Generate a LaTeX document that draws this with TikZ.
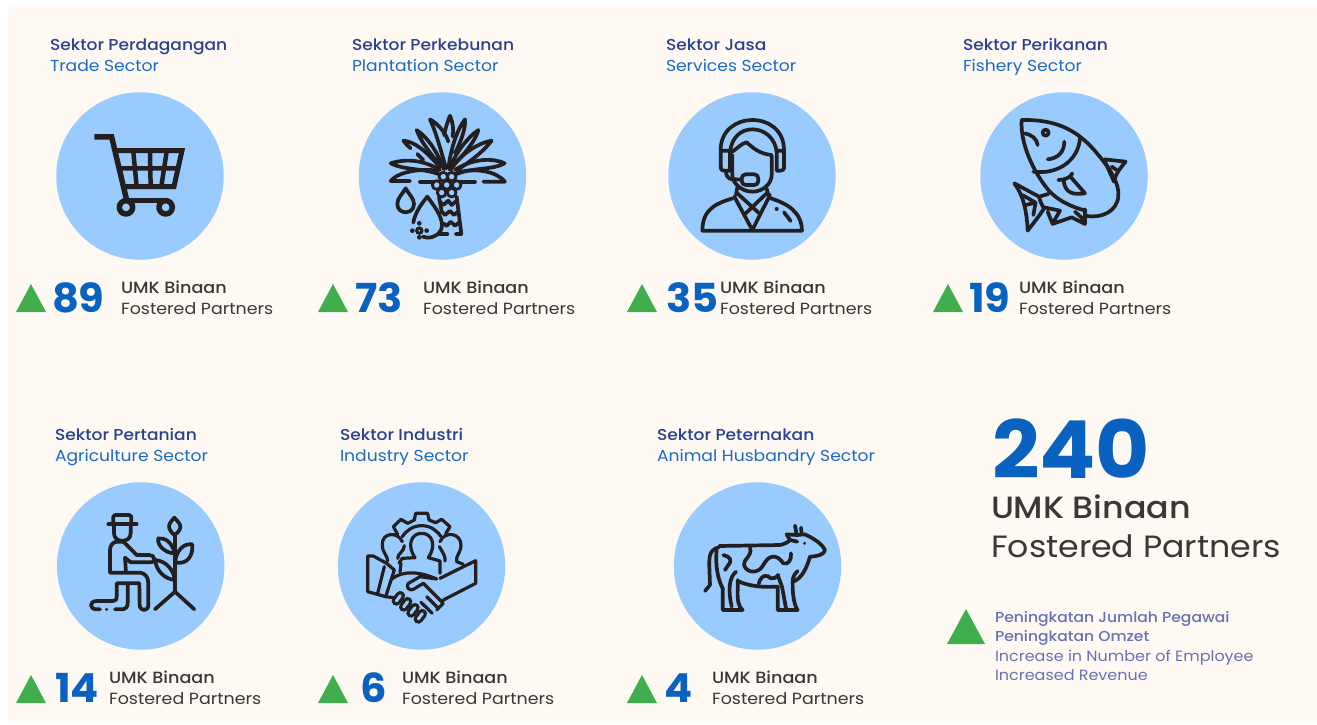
\documentclass[tikz,border=0pt]{standalone}
\usepackage{fontspec}
\setmainfont{Poppins}[FakeStretch=1.08]
\newfontfamily\medf{Poppins Medium}[FakeStretch=1.08]
\newfontfamily\numf{Poppins}[FakeStretch=1.04]
\definecolor{cream}{HTML}{FFF9F3}
\definecolor{sky}{HTML}{99CBFF}
\definecolor{ink}{HTML}{231F20}
\definecolor{navy}{HTML}{2B4090}
\definecolor{azure}{HTML}{1A6BC4}
\definecolor{numblue}{HTML}{0A62C0}
\definecolor{upgreen}{HTML}{40AE4C}
\definecolor{dark}{HTML}{383838}
\definecolor{lav}{HTML}{6A70B5}
\tikzset{
 txt/.style={inner sep=0pt,outer sep=0pt,anchor=base west},
 ttl/.style={txt,text=navy,font=\medf\fontsize{15.8}{16}\selectfont},
 sub/.style={txt,text=azure,font=\fontsize{15.9}{16}\selectfont},
 num/.style={txt,text=numblue,font=\numf\bfseries\fontsize{40}{40}\selectfont},
 lab/.style={txt,text=dark,font=\medf\fontsize{16.3}{16}\selectfont},
 lab2/.style={txt,text=dark,font=\fontsize{16.15}{16}\selectfont},
 disc/.style={circle,fill=sky,minimum size=167.5pt,inner sep=0pt,outer sep=0pt},
 ico/.style={draw=ink,line width=3.7pt,line cap=round,line join=round},
 hnd/.style={ico,line width=3.2pt},
 up/.style={fill=upgreen},
 zm/.style 2 args={shift={(#1,#2)},x=0.3333pt,y=-0.3333pt},
}
\begin{document}
\begin{tikzpicture}[x=1pt,y=-1pt]
\useasboundingbox (0,0) rectangle (1317,724);
\fill[white] (0,0) rectangle (1317,724);
\fill[cream] (8,7) rectangle (1317,724);
% discs
\node[disc] (c1) at (140,176) {};
\node[disc] (c2) at (442.5,176) {};
\node[disc] (c3) at (752,176) {};
\node[disc] (c4) at (1064,176) {};
\node[disc] (c5) at (140.7,566) {};
\node[disc] (c6) at (421.5,566) {};
\node[disc] (c7) at (757.5,566) {};
% titles
\node[ttl] (t1) at (50,50) {Sektor Perdagangan};
\node[sub] (s1) at (50,71) {Trade Sector};
\node[ttl] (t2) at (352,50) {Sektor Perkebunan};
\node[sub] (s2) at (352,71) {Plantation Sector};
\node[ttl] (t3) at (666,50) {Sektor Jasa};
\node[sub] (s3) at (666,71) {Services Sector};
\node[ttl] (t4) at (963,50) {Sektor Perikanan};
\node[sub] (s4) at (963,71) {Fishery Sector};
\node[ttl] (t5) at (55,440) {Sektor Pertanian};
\node[sub] (s5) at (55,461) {Agriculture Sector};
\node[ttl] (t6) at (340,440) {Sektor Industri};
\node[sub] (s6) at (340,461) {Industry Sector};
\node[ttl] (t7) at (657,440) {Sektor Peternakan};
\node[sub] (s7) at (657,461) {Animal Husbandry Sector};
% triangles
\fill[up] (16,312) -- (46,312) -- (31,284) -- cycle;
\fill[up] (318,312) -- (348,312) -- (333,284) -- cycle;
\fill[up] (627,312) -- (657,312) -- (642,284) -- cycle;
\fill[up] (933,312) -- (963,312) -- (948,284) -- cycle;
\fill[up] (16,703) -- (46,703) -- (31,675) -- cycle;
\fill[up] (318,703) -- (348,703) -- (333,675) -- cycle;
\fill[up] (627,703) -- (657,703) -- (642,675) -- cycle;
\fill[up] (947,644) -- (985,644) -- (966,609) -- cycle;
% numbers
\node[num] (n1) at (52,312) {89};
\node[num] (n2) at (355,312) {73};
\node[num] (n3) at (666,312) {35};
\node[num] (n4) at (969,312) {19};
\node[num] (n5) at (55,702) {14};
\node[num] (n6) at (360,702) {6};
\node[num] (n7) at (664,702) {4};
% labels
\node[lab] (a1) at (121,293) {UMK Binaan};
\node[lab2] (b1) at (121,314) {Fostered Partners};
\node[lab] (a2) at (423,293) {UMK Binaan};
\node[lab2] (b2) at (423,314) {Fostered Partners};
\node[lab] (a3) at (720,293) {UMK Binaan};
\node[lab2] (b3) at (720,314) {Fostered Partners};
\node[lab] (a4) at (1019,293) {UMK Binaan};
\node[lab2] (b4) at (1019,314) {Fostered Partners};
\node[lab] (a5) at (109,683) {UMK Binaan};
\node[lab2] (b5) at (109,704) {Fostered Partners};
\node[lab] (a6) at (402,683) {UMK Binaan};
\node[lab2] (b6) at (402,704) {Fostered Partners};
\node[lab] (a7) at (712,683) {UMK Binaan};
\node[lab2] (b7) at (712,704) {Fostered Partners};
% total
\node[txt,text=numblue,font=\numf\bfseries\fontsize{80}{80}\selectfont] (tot) at (992,478) {240};
\node[txt,text=dark,font=\medf\fontsize{30.8}{31}\selectfont] (tota) at (991,518) {UMK Binaan};
\node[txt,text=dark,font=\fontsize{30.75}{31}\selectfont] (totb) at (991,557) {Fostered Partners};
\node[txt,text=lav,font=\medf\fontsize{14.4}{15}\selectfont] (k1) at (995,622) {Peningkatan Jumlah Pegawai};
\node[txt,text=lav,font=\medf\fontsize{14.4}{15}\selectfont] (k2) at (995,641) {Peningkatan Omzet};
\node[txt,text=lav,font=\fontsize{14.8}{15}\selectfont] (k3) at (995,661) {Increase in Number of Employee};
\node[txt,text=lav,font=\fontsize{14.8}{15}\selectfont] (k4) at (995,680) {Increased Revenue};
% ---- cart
\begin{scope}[zm={0}{0}]
\draw[ico,line width=5.5pt,line cap=butt,line join=miter] (283,411) -- (335,411) -- (380,600);
\draw[ico,line width=5pt,line cap=butt,line join=miter] (350,452) -- (546,452) -- (522,560) -- (368,560);
\draw[ico,line width=4.5pt,line cap=butt] (352,505) -- (534,505) (400,455) -- (410,560) (450,455) -- (452,560) (500,455) -- (484,560);
\draw[ico,line width=5.5pt] (378,602) -- (497,602);
\draw[ico,line width=5.5pt] (378,622) circle (20);
\draw[ico,line width=5.5pt] (497,622) circle (20);
\end{scope}
% ---- palm
\begin{scope}[zm={340}{80}]
\draw[ico] (318,265) .. controls (300,200) and (285,150) .. (270,118) .. controls (300,135) and (320,165) .. (325,185);
\draw[ico] (312,165) .. controls (318,140) and (325,118) .. (330,107) .. controls (338,125) and (342,150) .. (338,170);
\draw[ico] (325,265) .. controls (332,210) and (350,150) .. (375,118) .. controls (378,140) and (365,180) .. (345,220);
\draw[ico] (328,268) .. controls (345,220) and (385,170) .. (415,150) .. controls (410,175) and (380,215) .. (345,250);
\draw[ico] (332,270) .. controls (360,225) and (410,190) .. (455,182) .. controls (430,215) and (390,245) .. (355,268);
\draw[ico] (312,268) .. controls (290,210) and (260,170) .. (230,150) .. controls (240,180) and (270,220) .. (300,255);
\draw[ico] (212,205) .. controls (200,195) and (195,188) .. (190,182) .. controls (225,185) and (260,215) .. (300,262);
\draw[ico] (232,222) -- (250,240);
\draw[ico] (300,270) .. controls (250,240) and (200,235) .. (152,250) .. controls (190,270) and (250,265) .. (295,282);
\draw[ico] (295,272) .. controls (240,265) and (175,275) .. (152,303) -- (210,303);
\draw[ico] (240,305) -- (280,305);
\draw[ico] (345,270) .. controls (390,240) and (450,230) .. (494,250) .. controls (460,270) and (400,262) .. (350,282);
\draw[ico] (350,278) .. controls (410,262) and (470,275) .. (495,305) -- (430,305);
\draw[ico] (360,305) -- (405,305);
\foreach \a/\b in {310/290,335/290,290/315,320/315,350/315,305/338,335/338}
  \draw[ico,line width=2.8pt] (\a,\b) circle (13);
\draw[ico] (297,352) -- (305,395);
\draw[ico] (350,350) -- (364,462) -- (347,462);
\draw[ico] (300,365) -- (310,375) -- (325,362) -- (335,375) -- (350,362);
\draw[ico] (305,395) -- (315,405) -- (330,393) -- (342,405) -- (356,393);
\draw[ico] (310,430) -- (320,438) -- (332,425) -- (345,437) -- (358,427);
\draw[ico] (300,462) -- (322,462);
\draw[ico] (197,325) .. controls (185,345) and (172,355) .. (172,372) .. controls (172,405) and (222,405) .. (222,372) .. controls (222,355) and (208,345) .. (197,325) -- cycle;
\draw[ico] (220,428) .. controls (225,395) and (250,365) .. (262,350) .. controls (280,375) and (305,405) .. (306,435) .. controls (306,460) and (285,473) .. (262,473) -- (248,470);
\fill[ink] (238,430) circle (7) (238,472) circle (7) (217,452) circle (7) (260,452) circle (7);
\draw[ink,line width=3pt,fill=sky] (238,452) circle (8);
\end{scope}
% ---- agent
\begin{scope}[zm={650}{80}]
\draw[ico] (212,265) -- (212,210) .. controls (212,150) and (260,120) .. (307,120) .. controls (355,120) and (402,150) .. (402,210) -- (402,265);
\draw[ico] (240,215) .. controls (245,175) and (270,148) .. (307,148) .. controls (345,148) and (375,175) .. (380,215);
\draw[ico] (212,212) -- (240,212) -- (240,272) -- (225,272) .. controls (215,272) and (212,268) .. (212,262);
\draw[ico] (402,212) -- (380,212) -- (380,272) -- (392,272) .. controls (400,272) and (402,268) .. (402,262);
\draw[ico] (247,215) .. controls (262,205) and (275,190) .. (290,187) .. controls (310,205) and (330,222) .. (365,225);
\draw[ico] (247,225) -- (247,285) .. controls (247,310) and (275,335) .. (307,335) .. controls (340,335) and (365,310) .. (365,285) -- (365,228);
\draw[ico,fill=sky,rounded corners=4pt] (275,283) rectangle (325,315);
\draw[ico] (275,299) -- (243,297) .. controls (233,295) and (228,285) .. (228,274);
\draw[ico] (262,322) -- (258,345) (350,325) -- (355,345);
\draw[ico] (248,355) .. controls (200,370) and (158,385) .. (157,452) -- (456,452) .. controls (455,395) and (410,370) .. (362,355);
\draw[ico] (253,350) -- (307,450) -- (360,345);
\draw[ico] (262,340) -- (330,402);
\draw[ico] (352,338) -- (285,402);
\fill[ink] (380,387) circle (6);
\draw[ico] (402,397) -- (422,423);
\end{scope}
% ---- fish
\begin{scope}[zm={965}{80}]
\draw[ico] (170,120) .. controls (275,118) and (340,150) .. (400,225) .. controls (430,260) and (465,310) .. (460,350) .. controls (455,395) and (410,415) .. (365,408);
\draw[ico] (170,120) .. controls (165,190) and (205,275) .. (250,330) .. controls (275,358) and (310,378) .. (362,392);
\draw[ico] (345,175) .. controls (340,240) and (280,285) .. (205,275);
\draw[ico] (242,158) circle (9);
\draw[ico] (180,160) .. controls (200,165) and (215,175) .. (218,195);
\draw[ico] (298,185) .. controls (298,215) and (280,235) .. (248,238);
\draw[ico] (322,280) .. controls (315,295) and (295,300) .. (280,300);
\draw[ico] (296,302) .. controls (300,340) and (325,345) .. (360,340) -- (318,292);
\draw[ico] (418,238) -- (482,245) .. controls (465,265) and (450,285) .. (447,305) -- (418,240);
\draw[ico] (440,260) -- (455,270);
\draw[ico] (148,310) -- (222,350) -- (250,342);
\draw[ico] (148,310) .. controls (170,340) and (185,380) .. (188,452) .. controls (205,430) and (225,405) .. (237,385) .. controls (230,375) and (225,362) .. (222,350);
\draw[ico] (172,345) -- (212,368) -- (205,405) (182,375) -- (212,368);
\draw[ico] (237,382) -- (285,392) -- (262,432) -- (320,412) -- (360,432) -- (360,388) (248,395) -- (262,430) (330,395) -- (358,420);
\end{scope}
% ---- farmer
\begin{scope}[zm={40}{475}]
\draw[ico] (205,148) -- (290,148);
\draw[ico] (220,148) -- (220,125) -- (225,120) -- (268,120) -- (274,125) -- (274,148);
\draw[ico] (222,150) -- (222,175) .. controls (222,205) and (272,205) .. (272,175) -- (272,150);
\draw[ico] (248,200) -- (232,200) .. controls (218,200) and (210,212) .. (210,225) -- (210,293);
\draw[ico] (250,200) -- (290,240) -- (328,240) .. controls (345,240) and (350,262) .. (330,262) -- (272,262) -- (255,248) -- (258,292);
\draw[ico] (212,293) -- (300,293) .. controls (315,295) and (325,305) .. (325,325) -- (325,390) .. controls (325,410) and (300,410) .. (299,390) -- (298,325) -- (230,325) -- (230,365) .. controls (230,375) and (225,378) .. (218,378) -- (170,378) .. controls (147,378) and (147,403) .. (170,403) -- (180,403);
\fill[ink] (200,403) circle (5);
\draw[ico] (225,403) -- (245,403) .. controls (258,403) and (263,395) .. (263,385) -- (263,325);
\draw[ico] (405,180) -- (405,350);
\draw[ico] (345,403) -- (405,350) -- (463,403);
\draw[ico] (403,128) .. controls (390,142) and (385,150) .. (388,160) .. controls (392,170) and (398,176) .. (403,180) .. controls (410,176) and (418,170) .. (421,158) .. controls (423,150) and (415,140) .. (403,128) -- cycle;
\draw[ico] (405,235) .. controls (395,200) and (375,188) .. (355,190) .. controls (350,210) and (375,235) .. (405,235);
\draw[ico] (405,262) .. controls (440,270) and (460,245) .. (457,208) .. controls (430,205) and (410,225) .. (405,262);
\draw[ico] (345,255) .. controls (350,290) and (375,312) .. (405,315) .. controls (400,285) and (380,258) .. (345,255);
\end{scope}
% ---- handshake
\begin{scope}[zm={325}{475}]
\draw[hnd] (218,178) -- (205,155) -- (228,133) -- (248,145) -- (268,135) -- (272,115) -- (308,115) -- (312,135) -- (332,143) -- (350,133) -- (375,155) -- (362,176);
\draw[hnd] (232,185) .. controls (245,165) and (265,152) .. (290,152) .. controls (315,152) and (335,165) .. (348,185);
\draw[hnd] (222,264) -- (232,250) -- (270,248) .. controls (245,212) and (258,175) .. (290,175) .. controls (322,175) and (335,212) .. (310,248) -- (345,258) -- (345,295);
\draw[hnd] (228,265) -- (225,292);
\draw[hnd] (232,200) .. controls (220,170) and (170,170) .. (172,210) .. controls (172,235) and (188,240) .. (188,258);
\draw[hnd] (238,212) .. controls (238,230) and (218,235) .. (218,250);
\draw[hnd] (345,200) .. controls (360,165) and (410,175) .. (408,212) .. controls (405,240) and (392,240) .. (395,260) -- (415,268);
\draw[hnd] (343,215) .. controls (355,235) and (362,245) .. (360,258);
\draw[hnd] (128,243) -- (145,243) -- (185,265) -- (208,285) -- (182,365) -- (128,350) -- cycle;
\draw[hnd] (178,275) -- (158,355);
\draw[hnd] (345,310) -- (452,257) -- (452,325) -- (355,375);
\draw[hnd] (182,365) -- (205,368);
\draw[hnd] (200,312) .. controls (235,285) and (285,290) .. (335,312) -- (285,305) -- (250,325) .. controls (240,335) and (255,350) .. (265,343) -- (295,325) -- (355,385) -- (335,405);
\foreach \p/\q/\r/\s in {214/378/226/362, 236/396/248/380, 258/414/270/398, 280/432/292/416}{
  \draw[ink,line width=9.5pt,line cap=round] (\p,\q) -- (\r,\s);
}
\foreach \p/\q/\r/\s in {214/378/226/362, 236/396/248/380, 258/414/270/398, 280/432/292/416}{
  \draw[sky,line width=3pt,line cap=round] (\p,\q) -- (\r,\s);
}
\draw[hnd] (305,365) -- (340,400) (288,382) -- (322,415);
\end{scope}
% ---- cow
\begin{scope}[zm={660}{475}]
\draw[ico] (178,213) -- (360,210) .. controls (370,208) and (385,202) .. (390,195) -- (380,178) -- (410,180) -- (435,178) .. controls (460,190) and (485,205) .. (495,225) .. controls (495,238) and (470,245) .. (450,245) .. controls (440,280) and (425,310) .. (400,320);
\draw[ico] (405,152) -- (410,178) (423,158) -- (425,175);
\fill[ink] (434,205) circle (5);
\draw[ico] (390,195) -- (412,200);
\draw[ico] (178,216) .. controls (145,225) and (148,250) .. (148,275) -- (150,330) -- (135,348);
\draw[ico] (170,225) .. controls (165,275) and (175,315) .. (188,340) -- (188,405) -- (248,405) .. controls (235,395) and (232,375) .. (233,345) -- (233,315);
\draw[ico] (215,395) .. controls (205,350) and (205,310) .. (228,290);
\draw[ico] (233,318) .. controls (270,335) and (310,337) .. (353,335) -- (353,405) -- (413,405) .. controls (400,390) and (397,340) .. (398,320) .. controls (398,305) and (405,295) .. (413,288);
\draw[ico] (353,300) -- (366,335) -- (378,400);
\draw[ico] (190,240) .. controls (210,245) and (218,255) .. (205,270) -- (195,285);
\draw[ico] (270,218) .. controls (278,245) and (250,250) .. (252,270) .. controls (260,295) and (295,298) .. (310,270) .. controls (325,240) and (350,235) .. (370,265) .. controls (385,270) and (395,255) .. (393,235);
\draw[ico] (296,326) .. controls (305,295) and (325,300) .. (332,310) .. controls (340,312) and (350,308) .. (356,300);
\end{scope}
\end{tikzpicture}
\end{document}
